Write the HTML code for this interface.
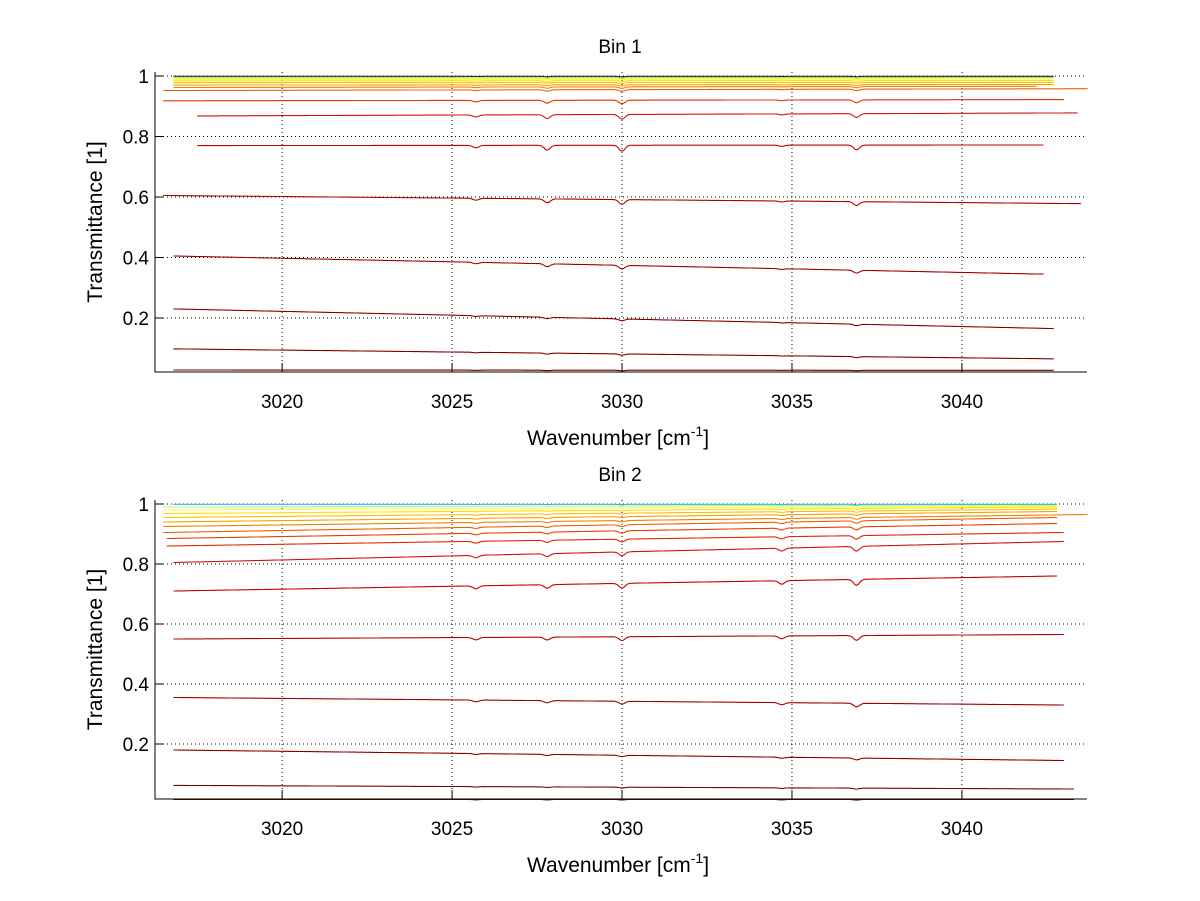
<!DOCTYPE html>
<html><head><meta charset="utf-8"><style>
body{margin:0;background:#fff;}
svg{display:block;font-family:"Liberation Sans",sans-serif;}
</style></head><body>
<svg id="c" width="1200" height="901"></svg>
<script>
// ---- data ----
const xTicks = [3020, 3025, 3030, 3035, 3040];
const yTicks = [0.2, 0.4, 0.6, 0.8, 1];
const yTickLabels = ["0.2", "0.4", "0.6", "0.8", "1"];
const dipCenters = [3025.7, 3027.8, 3030.0, 3034.7, 3036.9];
const bin1DipWeights = [0.4, 0.8, 1.0, 0.2, 0.8];
const bin2DipWeights = [0.5, 0.6, 0.8, 0.6, 1.0];
// Bin 1 curves (bottom to top)
const bin1Start = [0.028, 0.098, 0.23, 0.405, 0.605, 0.77, 0.868, 0.918, 0.952, 0.962, 0.97, 0.978, 0.984, 0.989, 0.994, 0.999];
const bin1End   = [0.027, 0.065, 0.165, 0.345, 0.578, 0.772, 0.878, 0.922, 0.958, 0.966, 0.972, 0.979, 0.985, 0.99, 0.995, 0.999];
const bin1XStart= [3016.8, 3016.8, 3016.8, 3016.8, 3016.5, 3017.5, 3017.5, 3016.5, 3016.5, 3016.8, 3016.8, 3016.8, 3016.8, 3016.8, 3016.8, 3016.8];
const bin1XEnd  = [3042.7, 3042.7, 3042.7, 3042.4, 3043.5, 3042.4, 3043.4, 3043.0, 3043.7, 3042.2, 3042.7, 3042.7, 3042.7, 3042.7, 3042.7, 3042.7];
const bin1Dip   = [0.002, 0.004, 0.006, 0.012, 0.016, 0.02, 0.016, 0.012, 0.006, 0.005, 0.004, 0.003, 0.003, 0.002, 0.002, 0.002];
const bin1Colors= ["#700000","#800000","#8a0000","#a00000","#b00000","#c80000","#d81010","#e83000","#f06000","#f48000","#f8a000","#fcc000","#ffe000","#ffff00","#c8e020","#002a80"];
// Bin 2 curves (bottom to top)
const bin2Start = [0.015, 0.062, 0.18, 0.355, 0.55, 0.71, 0.805, 0.86, 0.885, 0.905, 0.925, 0.94, 0.955, 0.968, 0.98, 0.99, 0.999];
const bin2End   = [0.015, 0.05, 0.145, 0.33, 0.565, 0.76, 0.875, 0.905, 0.935, 0.955, 0.965, 0.975, 0.983, 0.99, 0.994, 0.997, 0.999];
const bin2XStart= [3016.8, 3016.8, 3016.8, 3016.8, 3016.8, 3016.8, 3016.8, 3016.6, 3016.6, 3016.5, 3016.5, 3016.5, 3016.5, 3016.5, 3016.5, 3016.5, 3016.8];
const bin2XEnd  = [3043.3, 3043.3, 3043.0, 3043.0, 3043.0, 3042.8, 3043.0, 3043.0, 3042.8, 3042.8, 3043.7, 3042.8, 3042.8, 3042.8, 3042.8, 3042.8, 3042.8];
const bin2Dip   = [0.002, 0.003, 0.006, 0.012, 0.016, 0.02, 0.016, 0.012, 0.01, 0.008, 0.006, 0.005, 0.004, 0.003, 0.002, 0.002, 0.002];
const bin2Colors= ["#700000","#800000","#8a0000","#a00000","#b80000","#c80000","#d81010","#e02800","#e84000","#f06000","#f48000","#f8a000","#fcc000","#ffe000","#ffff40","#c0f0a0","#20c0e0"];

const NS = "http://www.w3.org/2000/svg";
const svg = document.getElementById("c");
function mk(tag, attrs, parent) {
  const e = document.createElementNS(NS, tag);
  for (const k in attrs) e.setAttribute(k, attrs[k]);
  (parent || svg).appendChild(e);
  return e;
}
const xMin = 3016.26, xMax = 3043.68;

function drawPanel(p) {
  const g = mk("g", {});
  
  
  const X = v => p.left + (v - xMin) / (xMax - xMin) * (p.right - p.left);
  const Y = v => p.y1 + (1 - v) * p.scale;
  xTicks.forEach(t => {
    const l = mk("line", {x1: X(t), x2: X(t), y1: p.top, y2: p.bottom, stroke: "#000", "stroke-width": 1, "stroke-dasharray": "1,3"}, g);
    
    
    mk("line", {x1: X(t), x2: X(t), y1: p.bottom, y2: p.bottom - 9, stroke: "#000"}, g);
    const tx = mk("text", {x: X(t), y: p.bottom + 36, "font-size": 19, "text-anchor": "middle"}, g);
    tx.textContent = t;
    
    
  });
  yTicks.forEach((t, i) => {
    const l = mk("line", {x1: p.left, x2: p.right, y1: Y(t), y2: Y(t), stroke: "#000", "stroke-width": 1, "stroke-dasharray": "1,3"}, g);
    
    
    mk("line", {x1: p.left, x2: p.left + 9, y1: Y(t), y2: Y(t), stroke: "#000"}, g);
    const tx = mk("text", {x: p.left - 6, y: Y(t) + 7, "font-size": 19, "text-anchor": "end"}, g);
    tx.textContent = yTickLabels[i];
    
    
  });
  for (let i = 0; i < p.start.length; i++) {
    let d = "";
    const x0 = p.xs[i], x1 = p.xe[i];
    for (let x = x0; x <= x1 + 1e-9; x += 0.05) {
      const f = (x - x0) / (x1 - x0);
      let v = p.start[i] + (p.end[i] - p.start[i]) * f;
      dipCenters.forEach((c, k) => {
        const dx = (x - c) / 0.12;
        v -= p.dip[i] * p.weights[k] * Math.exp(-dx * dx);
      });
      d += (d ? "L" : "M") + X(x).toFixed(1) + "," + Y(v).toFixed(1);
    }
    const path = mk("path", {d: d, fill: "none", stroke: p.colors[i], "stroke-width": 1.1}, g);
    
    
  }
  const ax = mk("path", {d: `M${p.left},${p.top}V${p.bottom}H${p.right}`, fill: "none", stroke: "#000", "stroke-width": 1}, g);
  
  
  const title = mk("text", {x: 620, y: p.top - 19, "font-size": 19, "text-anchor": "middle"}, g);
  title.textContent = p.title;
  
  
  const xl = mk("text", {x: 618, y: p.bottom + 73, "font-size": 21, "text-anchor": "middle"}, g);
  xl.innerHTML = 'Wavenumber [cm<tspan dy="-9" font-size="14">-1</tspan><tspan dy="9">]</tspan>';
  
  
  const yl = mk("text", {x: 0, y: 0, "font-size": 21, "text-anchor": "middle", transform: `translate(102,${(p.top + p.bottom) / 2}) rotate(-90)`}, g);
  yl.textContent = "Transmittance [1]";
  
  
}
drawPanel({name: "bin1-panel", title: "Bin 1", left: 155, right: 1087, top: 72, bottom: 372, y1: 76, scale: 302.5,
  start: bin1Start, end: bin1End, xs: bin1XStart, xe: bin1XEnd, dip: bin1Dip, weights: bin1DipWeights, colors: bin1Colors});
drawPanel({name: "bin2-panel", title: "Bin 2", left: 155, right: 1087, top: 500, bottom: 799, y1: 504, scale: 300,
  start: bin2Start, end: bin2End, xs: bin2XStart, xe: bin2XEnd, dip: bin2Dip, weights: bin2DipWeights, colors: bin2Colors});
</script>
</body></html>
